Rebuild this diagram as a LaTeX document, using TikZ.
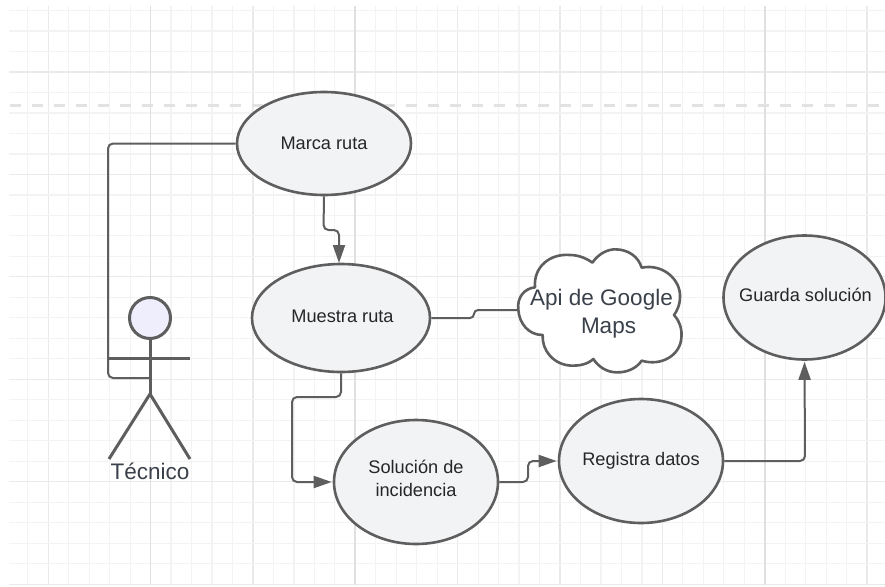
\documentclass[tikz,border=0pt]{standalone}
\usepackage{fontspec}
\setmainfont{Liberation Sans}
\usetikzlibrary{arrows.meta,shapes.geometric}
\definecolor{edgegray}{HTML}{5E5E5E}
\definecolor{fillgray}{HTML}{F2F3F5}
\definecolor{headfill}{HTML}{EEEEFC}
\definecolor{minorgrid}{HTML}{F3F3F3}
\definecolor{midgrid}{HTML}{EAEAEA}
\definecolor{majorgrid}{HTML}{E0E0E0}
\definecolor{dashgray}{HTML}{E2E2E2}
\definecolor{labelgray}{HTML}{3A414A}
\newcommand{\caselabel}[2]{\makebox[0pt][c]{\raisebox{#1}[0pt][0pt]{\begin{tabular}{@{}c@{}}#2\end{tabular}}}}
\tikzset{
  usecase/.style={ellipse,draw=edgegray,line width=2.6pt,fill=fillgray,inner sep=0pt,text=black!85,font=\fontsize{18.2}{23}\selectfont},
  conn/.style={draw=edgegray,line width=2pt,rounded corners=5pt},
  connarrow/.style={conn,-{Triangle[length=18pt,width=12pt]},shorten >=1pt},
  limb/.style={draw=edgegray,line width=3pt},
  biglabel/.style={text=labelgray,font=\fontsize{22.5}{28}\selectfont,inner sep=0pt,align=center}
}
\begin{document}
\begin{tikzpicture}[x=1pt,y=-1pt]
\useasboundingbox (0,0) rectangle (885,586);
\fill[white] (0,0) rectangle (885,586);
% grid
\foreach \i in {0,...,42}{
  \pgfmathsetmacro{\gx}{27.8+20.47*\i}
  \pgfmathparse{int(mod(\i,5))}
  \ifnum\pgfmathresult=1\relax
    \draw[midgrid,line width=1.2pt] (\gx,6) -- (\gx,585);
  \else
    \draw[minorgrid,line width=1.2pt] (\gx,6) -- (\gx,585);
  \fi
}
\foreach \i in {0,...,28}{
  \pgfmathsetmacro{\gy}{10.5+20.49*\i}
  \pgfmathparse{int(mod(\i,5))}
  \ifnum\pgfmathresult=3\relax
    \draw[midgrid,line width=1.2pt] (9,\gy) -- (885,\gy);
  \else
    \draw[minorgrid,line width=1.2pt] (9,\gy) -- (885,\gy);
  \fi
}
\draw[majorgrid,line width=1pt] (150.5,6) -- (150.5,585);
\draw[majorgrid,line width=1.3pt] (355,6) -- (355,585);
\draw[majorgrid,line width=1.3pt] (765,6) -- (765,585);
\draw[dashgray,line width=3pt,dash pattern=on 11pt off 11pt] (10,105) -- (885,105);
% use cases
\node[usecase,minimum width=174pt,minimum height=103pt] (marca) at (324,143.5) {\caselabel{-6pt}{Marca ruta}};
\node[usecase,minimum width=178pt,minimum height=108pt] (muestra) at (341,318) {\caselabel{-4pt}{\hspace*{3pt}Muestra ruta}};
\node[usecase,minimum width=164pt,minimum height=124pt] (solucion) at (416,482) {\caselabel{-2.5pt}{Solución de\\incidencia}};
\node[usecase,minimum width=164pt,minimum height=124pt] (registra) at (641,461) {\caselabel{-4pt}{Registra datos}};
\node[usecase,minimum width=162pt,minimum height=124pt] (guarda) at (804.5,297.5) {\caselabel{-3.5pt}{\hspace*{2pt}Guarda solución}};
% cloud
\begin{scope}[shift={(450,200)},scale=0.33333]
\draw[draw=edgegray,line width=2.6pt,fill=white,line join=round]
 (205,330) .. controls (200,290) and (225,265) .. (255,262)
 .. controls (250,200) and (300,160) .. (360,165)
 .. controls (385,165) and (410,175) .. (427,188)
 .. controls (450,155) and (480,148) .. (495,148)
 .. controls (535,148) and (565,170) .. (575,203)
 .. controls (640,190) and (692,240) .. (690,290)
 .. controls (690,315) and (680,335) .. (672,345)
 .. controls (690,365) and (697,390) .. (694,415)
 .. controls (690,465) and (635,500) .. (575,482)
 .. controls (560,505) and (530,518) .. (500,517)
 .. controls (470,517) and (445,500) .. (430,477)
 .. controls (410,495) and (385,497) .. (365,497)
 .. controls (310,495) and (275,450) .. (278,405)
 .. controls (235,405) and (208,370) .. (205,330) -- cycle;
\end{scope}
\node[biglabel] (api) at (601.5,313.5) {Api de Google\\\hspace*{14pt}Maps};
\coordinate (cloudw) at (518.5,310);
% actor
\node[circle,draw=edgegray,line width=3pt,fill=headfill,minimum size=41pt,inner sep=0pt] (head) at (150,318) {};
\coordinate (hip) at (150,394);
\coordinate (armL) at (108,358);
\coordinate (armR) at (190,358);
\coordinate (legL) at (109,459);
\coordinate (legR) at (190,459);
\coordinate (body) at (150,378);
\draw[limb] (head.south) -- (hip);
\draw[limb] (armL) -- (armR);
\draw[limb] (legL) -- (hip) -- (legR);
\node[biglabel] (tecnico) at (150,471) {Técnico};
% connectors
\draw[conn] (marca.west) -- (108,143.5) -- (108,378) -- (body);
\draw[connarrow] (marca.south) -- (323.5,230) -- (339,230) -- (339,264);
\draw[conn,rounded corners=4pt] (muestra.east) -- (474,318) -- (474,310) -- (cloudw);
\draw[connarrow] (muestra.south) -- (341,397) -- (292,397) -- (292,482) -- (solucion.west);
\draw[connarrow] (solucion.east) -- (528,482) -- (528,461) -- (registra.west);
\draw[connarrow] (registra.east) -- (805,461) -- (guarda.south);
\end{tikzpicture}
\end{document}
